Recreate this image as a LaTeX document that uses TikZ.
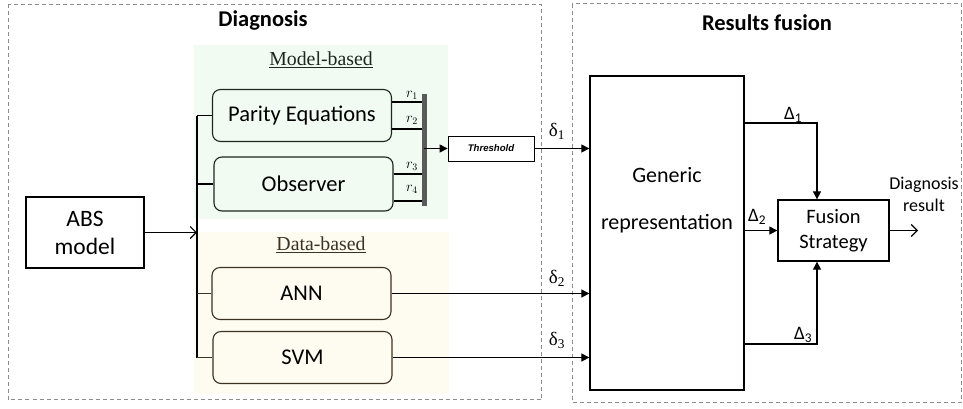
\documentclass[tikz,border=0pt]{standalone}
\usepackage{fontspec}
\setmainfont{Carlito}
\newfontfamily\serifnm{Liberation Serif}
\newfontfamily\arialnm{Liberation Sans}
\usetikzlibrary{arrows.meta}
\definecolor{dashgray}{HTML}{8C8C8C}
\definecolor{modelfill}{HTML}{F2FBF2}
\definecolor{datafill}{HTML}{FEFBF1}
\definecolor{dataline}{HTML}{3C3220}
\definecolor{modelline}{HTML}{1E261E}
\definecolor{bargray}{HTML}{5A5A5A}
\begin{document}
\begin{tikzpicture}[x=1pt,y=-1pt,
  frame/.style={draw=dashgray, dash pattern=on 4pt off 3pt, line width=0.9pt},
  algbox/.style={draw, rounded corners=8pt, line width=1.1pt, minimum width=179pt, minimum height=52pt, inner sep=0pt, font=\fontsize{22.5}{26}\selectfont},
  plainbox/.style={draw, line width=1.3pt, inner sep=0pt},
  conn/.style={line width=1.1pt},
  farrow/.style={conn, -{Triangle[length=8pt,width=8pt]}},
  oarrow/.style={conn, -{Straight Barb[length=6pt,width=12pt]}},
  title/.style={font=\fontsize{22.5}{26}\selectfont\bfseries},
  sublabel/.style={font=\serifnm\fontsize{19.8}{23}\selectfont},
  rlab/.style={font=\fontsize{14}{16}\selectfont, inner sep=0pt},
  dlab/.style={font=\serifnm\fontsize{19}{21}\selectfont, inner sep=0pt},
  Dlab/.style={font=\fontsize{19}{21}\selectfont, inner sep=0pt},
]
\useasboundingbox (0,0) rectangle (963,408);

% regions
\fill[modelfill] (194,45) rectangle (448,219);
\fill[datafill] (194,232) rectangle (449,394);
\draw[frame] (8,4) rectangle (541.7,399.5);
\draw[frame] (572,3.5) rectangle (961.5,402);

% titles
\node[title] (t1) at (263,21) {Diagnosis};
\node[title] (t2) at (767,23) {Results fusion};
\node[sublabel, text=modelline] (mb) at (321,60) {\underline{Model-based}};
\node[sublabel, text=dataline] (db) at (321,245) {\underline{Data-based}};

% left nodes
\node[plainbox, minimum width=118pt, minimum height=71pt, align=center,
  font=\fontsize{23.5}{28}\selectfont] (abs) at (85,232.5) {ABS\\model};
\node[algbox, draw=modelline] (par) at (302,115.5) {Parity Equations};
\node[algbox, draw=modelline, minimum height=54pt] (obs) at (303.5,184) {Observer};
\node[algbox, draw=dataline] (ann) at (301.5,293.5) {ANN};
\node[algbox, draw=dataline] (svm) at (302.5,357.5) {SVM};

% bus
\coordinate (bt) at (197,115.5);
\coordinate (bb) at (197,357.5);
\draw[conn] (bt) -- (bb);
\draw[conn] (bt) -- (par.west);
\draw[conn] (obs.west -| bt) -- (obs.west);
\draw[conn, dataline] (ann.west -| bt) -- (ann.west);
\draw[conn, dataline] (svm.west -| bt) -- (svm.west);
\draw[oarrow] (abs.east) -- (abs.east -| bt);

% residuals and bar
\coordinate (r1) at (424,102);
\coordinate (r2) at (424,129);
\coordinate (r3) at (424,174);
\coordinate (r4) at (424,201);
\draw[conn] (r1 -| par.east) -- (r1);
\draw[conn] (r2 -| par.east) -- (r2);
\draw[conn] (r3 -| obs.east) -- (r3);
\draw[conn] (r4 -| obs.east) -- (r4);
\coordinate (bartop) at (424,94);
\coordinate (barbot) at (424,206);
\coordinate (barmid) at (424,148.5);
\draw[bargray, line width=5pt] (bartop) -- (barbot);
\node[rlab] (lr1) at (412,95) {$r_1$};
\node[rlab] (lr2) at (412,120) {$r_2$};
\node[rlab] (lr3) at (412,166) {$r_3$};
\node[rlab] (lr4) at (412,189) {$r_4$};

\node[draw, line width=0.8pt, minimum width=86pt, minimum height=25pt, inner sep=0pt,
  font=\arialnm\fontsize{9.6}{12}\selectfont\bfseries\itshape] (thr) at (491,148.5) {Threshold};
\draw[farrow] (barmid) -- (thr.west);

% generic representation
\node[plainbox, minimum width=154pt, minimum height=314pt] (gen) at (667,233) {};
\node[font=\fontsize{22}{26}\selectfont] (gen1) at (667,175) {Generic};
\node[font=\fontsize{22}{26}\selectfont] (gen2) at (667,224) {representation};

\draw[farrow] (thr.east) -- (thr.east -| gen.west);
\draw[farrow] (ann.east) -- (ann.east -| gen.west);
\draw[farrow] (svm.east) -- (svm.east -| gen.west);
\node[dlab] (d1) at (557,131) {δ\textsubscript{1}};
\node[dlab] (d2) at (557,278) {δ\textsubscript{2}};
\node[dlab] (d3) at (557,340) {δ\textsubscript{3}};

% fusion
\node[plainbox, minimum width=111pt, minimum height=61pt, align=center,
  font=\fontsize{20.5}{25}\selectfont] (fus) at (833.5,230.5) {Fusion\\Strategy};
\coordinate (c1) at (817,123);
\coordinate (c3) at (817,344);
\draw[farrow] (c1 -| gen.east) -- (c1) -- (c1 |- fus.north);
\draw[farrow] (c3 -| gen.east) -- (c3) -- (c3 |- fus.south);
\draw[farrow] (fus.west -| gen.east) -- (fus.west);
\node[Dlab] (D1) at (793,115) {Δ\textsubscript{1}};
\node[Dlab] (D2) at (757,217) {Δ\textsubscript{2}};
\node[Dlab] (D3) at (803,335) {Δ\textsubscript{3}};

\coordinate (out) at (918,230.5);
\draw[oarrow] (fus.east) -- (out);
\node[align=center, font=\fontsize{18}{22}\selectfont] (res) at (924,194) {Diagnosis\\result};
\end{tikzpicture}
\end{document}
